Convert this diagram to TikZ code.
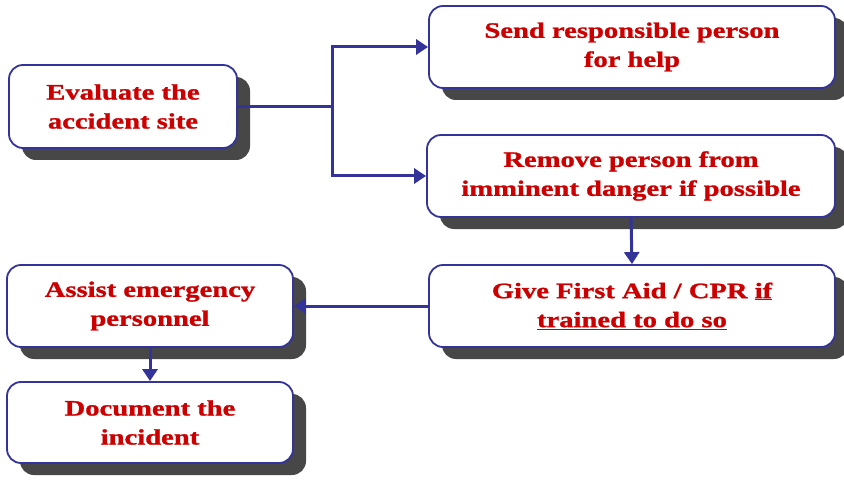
\documentclass[tikz,border=0pt]{standalone}
\usepackage{fontspec}
\setmainfont{Liberation Serif}[FakeStretch=1.3,FakeBold=1.2]
\usetikzlibrary{arrows.meta,shadows}
\definecolor{lineblue}{RGB}{51,51,153}
\definecolor{textred}{RGB}{204,0,0}
\begin{document}
\begin{tikzpicture}[x=1pt,y=-1pt,
  box/.style={draw=lineblue, line width=1.8pt, fill=white, rounded corners=14pt,
    align=center, text=textred, font=\bfseries\fontsize{22}{29}\selectfont,
    inner sep=0pt,
    drop shadow={shadow xshift=13pt, shadow yshift=-12pt, fill=black!72, opacity=1}},
  conn/.style={draw=lineblue, line width=3pt},
  arr/.style={conn, -{Triangle[length=12pt,width=15pt]}}]
\useasboundingbox[fill=white] (0,0) rectangle (844,484);
\node[box, minimum width=228pt, minimum height=83pt] (eval) at (123,106.5) {Evaluate the\\accident site};
\node[box, minimum width=406pt, minimum height=82pt] (send) at (632,47) {Send responsible person\\for help};
\node[box, minimum width=408pt, minimum height=82pt] (remove) at (631,176) {Remove person from\\imminent danger if possible};
\node[box, minimum width=406pt, minimum height=82pt] (aid) at (632,306) {Give First Aid / CPR \underline{if}\\\underline{trained to do so}};
\node[box, minimum width=286pt, minimum height=82pt] (assist) at (150,306) {Assist emergency\\personnel};
\node[box, minimum width=286pt, minimum height=81pt] (doc) at (150,422.5) {Document the\\incident};
\coordinate (split) at (332,106.5);
\draw[conn] (eval.east) -- (split);
\draw[arr] (split) |- (send.west);
\draw[arr] (split) |- (remove.west);
\draw[arr] (remove.south) -- (aid.north);
\draw[arr] (aid.west) -- (assist.east);
\draw[arr] (assist.south) -- (doc.north);
\end{tikzpicture}
\end{document}
